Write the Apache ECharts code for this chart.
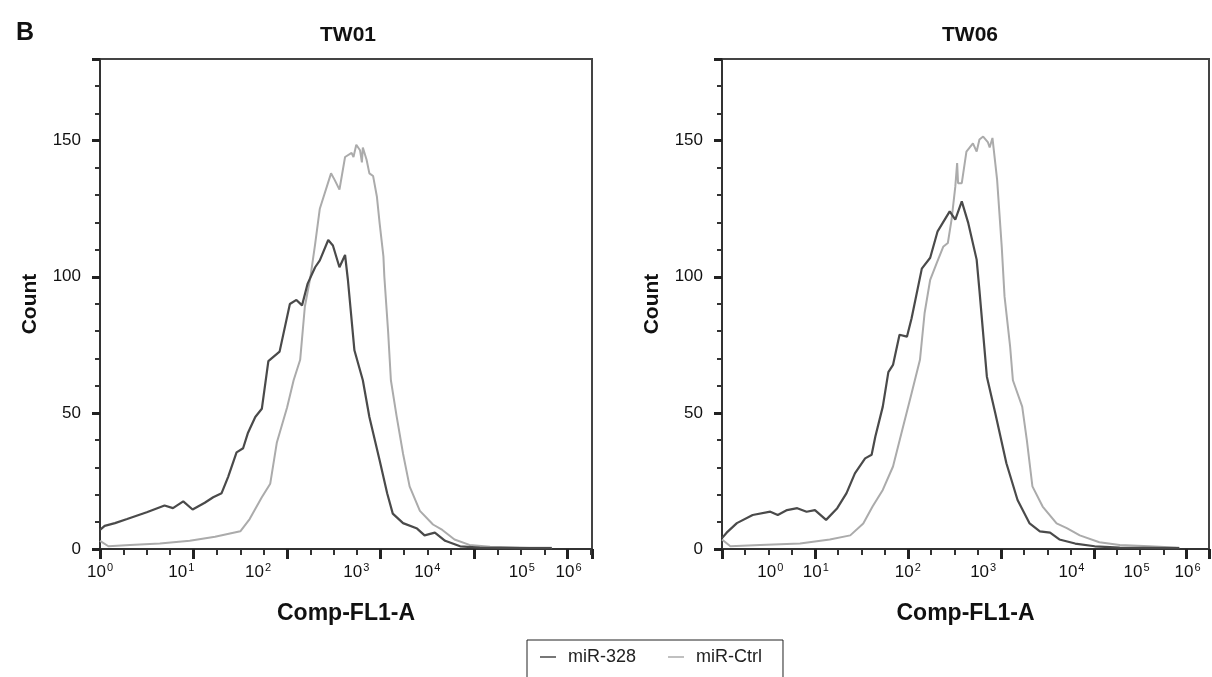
<!DOCTYPE html>
<html><head><meta charset="utf-8">
<script src="https://cdn.jsdelivr.net/npm/echarts@6/dist/echarts.min.js"></script>
<style>html,body{margin:0;padding:0;background:#fff}#c{width:1212px;height:677px}</style>
</head><body><div id="c"></div><script>
// ---- data (x in axis channel units: 1 unit = one major tick interval) ----
const seriesNames = ['miR-328', 'miR-Ctrl'];
const panelTitles = ['TW01', 'TW06'];
const yTicks = [0, 50, 100, 150];
const xExponents = [0, 1, 2, 3, 4, 5, 6];
const tw01LabelPos = [0, 0.87, 1.69, 2.74, 3.50, 4.51, 5.01];
const tw06LabelPos = [0.52, 1.01, 2.0, 2.81, 3.76, 4.46, 5.01];

const tw01_miR328 = [[0,7],[0.05,8.5],[0.16,9.5],[0.29,11],[0.50,13.5],[0.69,16],[0.78,15],[0.89,17.5],[0.99,14.5],[1.12,17],[1.21,19],[1.30,20.5],[1.37,26.5],[1.46,35.5],[1.53,37],[1.58,42.5],[1.66,48.5],[1.73,51.5],[1.80,69],[1.92,72.5],[2.03,90],[2.10,91.5],[2.16,89.5],[2.22,97.5],[2.30,103.5],[2.35,106],[2.44,113.5],[2.49,111.5],[2.56,103.5],[2.62,108],[2.65,99],[2.72,73],[2.81,62],[2.88,48.5],[2.99,32.5],[3.07,20.5],[3.13,13],[3.24,9.5],[3.39,7.5],[3.47,5],[3.58,6],[3.69,3],[3.85,1],[4.06,0.5],[4.5,0.3],[4.83,0.3]];
const tw01_miRCtrl = [[0,3],[0.09,1],[0.32,1.5],[0.64,2],[0.96,3],[1.23,4.5],[1.50,6.5],[1.60,11],[1.73,19],[1.82,24],[1.89,39],[2.00,52],[2.07,62],[2.14,69.5],[2.19,89],[2.25,100],[2.30,112],[2.35,125],[2.47,138],[2.51,135.5],[2.56,132],[2.62,144],[2.69,145.5],[2.71,144],[2.74,148.5],[2.78,146.5],[2.80,142],[2.81,147.5],[2.85,143],[2.88,138],[2.92,137],[2.96,129.5],[2.99,119.5],[3.03,107.5],[3.04,100],[3.08,80],[3.11,62],[3.17,49],[3.24,35],[3.31,23],[3.42,14],[3.56,9],[3.66,7],[3.79,3.5],[3.95,1.5],[4.17,0.8],[4.59,0.5],[4.83,0.5]];
const tw06_miR328 = [[0,4],[0.05,6],[0.16,9.5],[0.33,12.5],[0.52,13.7],[0.60,12.5],[0.70,14.3],[0.81,15],[0.91,13.7],[1.00,14.3],[1.12,10.7],[1.24,15],[1.34,20.5],[1.43,27.8],[1.54,33.3],[1.61,34.6],[1.65,41.3],[1.73,52.3],[1.79,65],[1.84,67.6],[1.91,78.7],[1.99,78],[2.04,84.8],[2.15,103],[2.24,107],[2.32,116.7],[2.45,124],[2.51,121],[2.58,127.7],[2.65,119.7],[2.74,106.3],[2.77,95],[2.85,63.3],[2.94,50],[3.06,31.5],[3.18,18],[3.31,9.4],[3.42,6.5],[3.53,6],[3.63,3.5],[3.80,2],[4.01,1],[4.28,0.5],[4.92,0.3]];
const tw06_miRCtrl = [[0,3.5],[0.09,1],[0.41,1.5],[0.84,2],[1.16,3.5],[1.38,5],[1.52,9.4],[1.62,15.6],[1.73,21.7],[1.84,30.3],[1.94,43.8],[2.04,57.2],[2.13,69.5],[2.18,86.7],[2.24,98.9],[2.31,105],[2.38,111],[2.43,112.4],[2.47,121],[2.51,133],[2.53,141.8],[2.54,134.4],[2.58,134.4],[2.63,146],[2.70,149],[2.74,146],[2.77,150.4],[2.81,151.5],[2.86,149.5],[2.88,147.5],[2.91,151],[2.96,135.7],[3.01,111],[3.04,92.8],[3.10,74.4],[3.13,62],[3.23,52.3],[3.28,40],[3.34,23],[3.45,15.6],[3.60,9.4],[3.71,7.7],[3.85,5],[4.06,2.5],[4.28,1.5],[4.60,1],[4.92,0.5]];

// ---- chart ----
const FONT = '"Liberation Sans", Arial, Helvetica, sans-serif';
const DARK = '#4a4a4a', LIGHT = '#ababab', AXIS = '#333';
const chart = echarts.init(document.getElementById('c'));

function xAxisPair(gridIndex, max, labelPos) {
  return [
    { type: 'value', gridIndex, min: 0, max, interval: 1,
      axisLine: { show: true, onZero: false, lineStyle: { color: AXIS, width: 2 } },
      axisTick: { show: true, length: 10, lineStyle: { color: '#222', width: 3 } },
      minorTick: { show: true, splitNumber: 4, length: 6, lineStyle: { color: AXIS, width: 2 } },
      axisLabel: { show: false }, splitLine: { show: false },
      name: 'Comp-FL1-A', nameLocation: 'middle', nameGap: 53,
      nameTextStyle: { fontFamily: FONT, fontSize: 23, fontWeight: 'bold', color: '#111' } },
    { type: 'value', gridIndex, min: 0, max, position: 'bottom',
      axisLine: { show: false }, axisTick: { show: false }, splitLine: { show: false },
      axisLabel: { show: true, customValues: labelPos, margin: 13,
        formatter: function (v) {
          let best = 0;
          labelPos.forEach((p, i) => { if (Math.abs(p - v) < Math.abs(labelPos[best] - v)) best = i; });
          return '{b|10}{s|' + xExponents[best] + '}';
        },
        rich: { b: { fontFamily: FONT, fontSize: 17, color: '#111' },
                s: { fontFamily: FONT, fontSize: 11, color: '#111', padding: [0, 0, 9, 1] } } } }
  ];
}
function yAxisOf(gridIndex) {
  return { type: 'value', gridIndex, min: 0, max: 180, interval: 50,
    axisLine: { show: true, lineStyle: { color: AXIS, width: 2 } },
    axisTick: { show: true, length: 8, lineStyle: { color: '#222', width: 3 } },
    minorTick: { show: true, splitNumber: 5, length: 5, lineStyle: { color: AXIS, width: 2 } },
    axisLabel: { fontFamily: FONT, fontSize: 17, color: '#111', margin: 19, showMaxLabel: false,
      formatter: v => (yTicks.indexOf(v) >= 0 ? String(v) : '') },
    splitLine: { show: false },
    name: 'Count', nameLocation: 'middle', nameGap: 59,
    nameTextStyle: { fontFamily: FONT, fontSize: 21, fontWeight: 'bold', color: '#111' } };
}
function line(name, data, xi, yi) {
  const dark = name === seriesNames[0];
  return { type: 'line', name, data, xAxisIndex: xi, yAxisIndex: yi,
    showSymbol: false, symbol: 'none', smooth: false, silent: true,
    lineStyle: { color: dark ? DARK : LIGHT, width: dark ? 2.2 : 2 },
    itemStyle: { color: dark ? DARK : LIGHT }, z: dark ? 3 : 2 };
}

chart.setOption({
  animation: false,
  backgroundColor: '#fff',
  textStyle: { fontFamily: FONT },
  title: [
    { text: 'B', left: 11, top: 16, textStyle: { fontFamily: FONT, fontSize: 25, fontWeight: 'bold', color: '#111' } },
    { text: panelTitles[0], left: 343, top: 20, textAlign: 'center', textStyle: { fontFamily: FONT, fontSize: 21, fontWeight: 'bold', color: '#111' } },
    { text: panelTitles[1], left: 965, top: 20, textAlign: 'center', textStyle: { fontFamily: FONT, fontSize: 21, fontWeight: 'bold', color: '#111' } }
  ],
  legend: { data: seriesNames, left: 527, top: 640, icon: 'rect', itemWidth: 16, itemHeight: 1.5,
    itemGap: 32, padding: [8, 21, 20, 13], borderColor: '#222', borderWidth: 1,
    textStyle: { fontFamily: FONT, fontSize: 18, color: '#222', padding: [0, 0, 0, 7] } },
  grid: [
    { left: 100, right: 620, top: 59, bottom: 128, show: true, borderColor: '#444', borderWidth: 2, backgroundColor: 'transparent' },
    { left: 722, right: 3, top: 59, bottom: 128, show: true, borderColor: '#444', borderWidth: 2, backgroundColor: 'transparent' }
  ],
  xAxis: [].concat(xAxisPair(0, 5.26, tw01LabelPos), xAxisPair(1, 5.24, tw06LabelPos)),
  yAxis: [yAxisOf(0), yAxisOf(1)],
  series: [
    line(seriesNames[1], tw01_miRCtrl, 0, 0),
    line(seriesNames[0], tw01_miR328, 0, 0),
    line(seriesNames[1], tw06_miRCtrl, 2, 1),
    line(seriesNames[0], tw06_miR328, 2, 1)
  ]
});
</script></body></html>
